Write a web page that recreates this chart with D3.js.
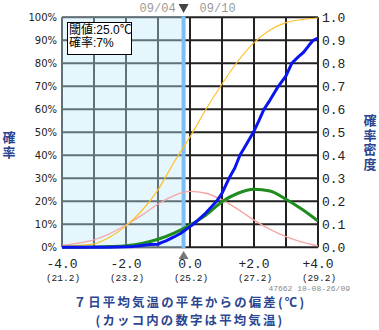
<!DOCTYPE html>
<html>
<head>
<meta charset="utf-8">
<script src="https://cdn.jsdelivr.net/npm/d3@7"></script>
<style>
  body { margin: 0; background: #fff; }
  svg { display: block; }
</style>
</head>
<body>
<svg id="chart" width="379" height="330"></svg>
<script>
// Deviation grid (°C from normal) for the smooth curves
const deviations = [-4, -3.5, -3, -2.5, -2, -1.5, -1, -0.5, 0, 0.5, 1, 1.5, 2, 2.5, 3, 3.5, 4];
// Climatological cumulative probability (thin yellow)
const climCdf = [0.004, 0.008, 0.015, 0.045, 0.093, 0.16, 0.25, 0.37, 0.48, 0.60, 0.71, 0.81, 0.89, 0.945, 0.977, 0.99, 0.997];
// Climatological density (thin pink)
const climPdf = [0.008, 0.018, 0.032, 0.06, 0.097, 0.14, 0.188, 0.225, 0.243, 0.235, 0.206, 0.165, 0.118, 0.078, 0.046, 0.022, 0.006];
// Forecast density (thick green)
const fcstPdf = [0.0, 0.0, 0.001, 0.003, 0.007, 0.017, 0.035, 0.062, 0.097, 0.14, 0.198, 0.235, 0.252, 0.245, 0.209, 0.165, 0.114];
// Forecast cumulative probability (thick blue, ensemble based so slightly ragged)
const fcstCdfX = [-4, -3, -2.5, -2, -1.75, -1.5, -1.25, -1, -0.9, -0.75, -0.5, -0.3, -0.2, 0, 0.1, 0.25, 0.5, 0.83, 1.0, 1.22, 1.4, 1.56, 1.75, 1.98, 2.15, 2.31, 2.5, 2.76, 3.0, 3.18, 3.4, 3.55, 3.7, 3.85, 4.0];
const fcstCdf  = [0, 0, 0, 0.002, 0.004, 0.008, 0.012, 0.013, 0.02, 0.028, 0.045, 0.06, 0.07, 0.09, 0.1, 0.118, 0.15, 0.2, 0.235, 0.3, 0.345, 0.4, 0.445, 0.5, 0.55, 0.6, 0.64, 0.7, 0.745, 0.8, 0.83, 0.848, 0.875, 0.9, 0.91];

const xTicks = [-4, -2, 0, 2, 4];
const xTickLabels = ["-4.0", "-2.0", "0.0", "+2.0", "+4.0"];
const xTickTemps = ["(21.2)", "(23.2)", "(25.2)", "(27.2)", "(29.2)"];
const pctTicks = [0, 10, 20, 30, 40, 50, 60, 70, 80, 90, 100];
const densTickLabels = ["0.0", "0.1", "0.2", "0.3", "0.4", "0.5", "0.6", "0.7", "0.8", "0.9", "1.0"];

const threshold = -0.2;            // 25.0°C expressed as deviation from 25.2°C
const boxLines = ["閾値:25.0℃", "確率:7%"];
const periodStart = "09/04";
const periodEnd = "09/10";
const stamp = "47662 10-08-26/09";
const leftTitle = "確率";
const rightTitle = "確率密度";
const xTitle = ["７日平均気温の平年からの偏差(℃)", "(カッコ内の数字は平均気温)"];

const svg = d3.select("#chart");
const x = d3.scaleLinear().domain([-4, 4]).range([62, 318]);
const y = d3.scaleLinear().domain([0, 1]).range([247.3, 17.3]);
const yPct = d3.scaleLinear().domain([0, 100]).range([247.3, 17.3]);

const mono = "'Liberation Mono', 'DejaVu Sans Mono', monospace";
const cjk = "'Noto Sans CJK JP', sans-serif";
const titleBlue = "#2b4590";

// Grid
const grid = svg.append("g");
grid.selectAll("line.v").data(d3.range(-4, 4.01, 1)).join("line")
  .attr("x1", d => x(d)).attr("x2", d => x(d))
  .attr("y1", y(0)).attr("y2", y(1))
  .attr("stroke", "#222").attr("stroke-width", 2);
grid.selectAll("line.h").data(d3.range(0, 1.001, 0.1)).join("line")
  .attr("x1", x(-4)).attr("x2", x(4))
  .attr("y1", d => y(d)).attr("y2", d => y(d))
  .attr("stroke", "#222").attr("stroke-width", 2);

// Shaded area below the threshold
svg.append("rect")
  .attr("x", x(-4) - 1).attr("y", y(1) - 1)
  .attr("width", x(threshold) - x(-4) + 1).attr("height", y(0) - y(1) + 2)
  .attr("fill", "#bfe9fb").attr("fill-opacity", 0.4);

// Threshold band
svg.append("line")
  .attr("x1", x(threshold)).attr("x2", x(threshold))
  .attr("y1", y(1) - 1).attr("y2", y(0) + 1)
  .attr("stroke", "#7dbff5").attr("stroke-width", 4);

// Curves
svg.append("clipPath").attr("id", "plotclip").append("rect")
  .attr("x", x(-4)).attr("y", y(1) - 2).attr("width", x(4) - x(-4)).attr("height", y(0) - y(1) + 4);
const curves = svg.append("g").attr("clip-path", "url(#plotclip)");
const smooth = d3.line().x(d => x(d[0])).y(d => y(d[1])).curve(d3.curveMonotoneX);
const ragged = d3.line().x(d => x(d[0])).y(d => y(d[1]));

curves.append("path").datum(d3.zip(deviations, climPdf))
  .attr("d", smooth).attr("fill", "none").attr("stroke", "#f5a5a5").attr("stroke-width", 1.3);
curves.append("path").datum(d3.zip(deviations, climCdf))
  .attr("d", smooth).attr("fill", "none").attr("stroke", "#ffbf2a").attr("stroke-width", 1.2);
curves.append("path").datum(d3.zip(deviations, fcstPdf))
  .attr("d", smooth).attr("fill", "none").attr("stroke", "#1e8c1e").attr("stroke-width", 3);
curves.append("path").datum(d3.zip(fcstCdfX, fcstCdf))
  .attr("d", ragged).attr("fill", "none").attr("stroke", "#0a14f0").attr("stroke-width", 3)
  .attr("stroke-linejoin", "round");

// Left axis (%)
svg.append("g").selectAll("text").data(pctTicks).join("text")
  .attr("x", 57).attr("y", d => yPct(d)).attr("dy", "0.36em")
  .attr("text-anchor", "end")
  .attr("font-family", "'DejaVu Sans', sans-serif").attr("font-size", 10).attr("fill", "#222")
  .text(d => d + "%");

// Right axis (density)
svg.append("g").selectAll("text").data(densTickLabels).join("text")
  .attr("x", 322).attr("y", (d, i) => y(i / 10)).attr("dy", "0.36em")
  .attr("font-family", mono).attr("font-size", 13).attr("fill", "#222")
  .text(d => d);

// Bottom axis
const bx = svg.append("g");
bx.selectAll("text.dev").data(xTicks).join("text")
  .attr("x", d => x(d)).attr("y", 268).attr("text-anchor", "middle")
  .attr("font-family", mono).attr("font-size", 13).attr("fill", "#222")
  .text((d, i) => xTickLabels[i]);
bx.selectAll("text.tmp").data(xTicks).join("text")
  .attr("x", d => x(d) + 1).attr("y", 281).attr("text-anchor", "middle")
  .attr("font-family", mono).attr("font-size", 9.5).attr("fill", "#222")
  .text((d, i) => xTickTemps[i]);

// Threshold markers and forecast period
const tx = x(threshold);
svg.append("path")
  .attr("d", `M${tx - 5},${4} L${tx + 5},${4} L${tx},${13} Z`)
  .attr("fill", "#444");
svg.append("path")
  .attr("d", `M${tx - 5},${259} L${tx + 5},${259} L${tx},${251} Z`)
  .attr("fill", "#777");
svg.append("text").attr("x", tx - 8).attr("y", 12).attr("text-anchor", "end")
  .attr("font-family", mono).attr("font-size", 12).attr("fill", "#9a9a9a").text(periodStart);
svg.append("text").attr("x", tx + 16).attr("y", 12)
  .attr("font-family", mono).attr("font-size", 12).attr("fill", "#9a9a9a").text(periodEnd);

// Threshold info box
svg.append("rect").attr("x", 67.5).attr("y", 22.5).attr("width", 64).attr("height", 32)
  .attr("fill", "#fff").attr("stroke", "#000").attr("stroke-width", 1);
svg.append("text")
  .attr("font-family", "'Liberation Sans', 'Noto Sans CJK JP', sans-serif")
  .attr("font-size", 12).attr("fill", "#000")
  .selectAll("tspan").data(boxLines).join("tspan")
  .attr("x", 69).attr("y", (d, i) => 34 + i * 13)
  .text(d => d);

// Axis titles, written vertically
function vertical(str, cx, top) {
  svg.append("text")
    .attr("x", cx).attr("y", top)
    .attr("writing-mode", "vertical-rl")
    .attr("letter-spacing", 1.5)
    .attr("font-family", cjk).attr("font-size", 13).attr("font-weight", "bold").attr("fill", titleBlue)
    .text(str);
}
vertical(leftTitle, 9, 131);
vertical(rightTitle, 370, 114);

svg.append("text").attr("x", 350).attr("y", 291).attr("text-anchor", "end")
  .attr("font-family", mono).attr("font-size", 8).attr("fill", "#888").text(stamp);

svg.append("text")
  .attr("text-anchor", "middle")
  .attr("font-family", cjk).attr("font-size", 12.4).attr("font-weight", "bold")
  .attr("letter-spacing", 2.2).attr("fill", titleBlue)
  .selectAll("tspan").data(xTitle).join("tspan")
  .attr("x", 190).attr("y", (d, i) => 307 + i * 18)
  .text(d => d);
</script>
</body>
</html>
